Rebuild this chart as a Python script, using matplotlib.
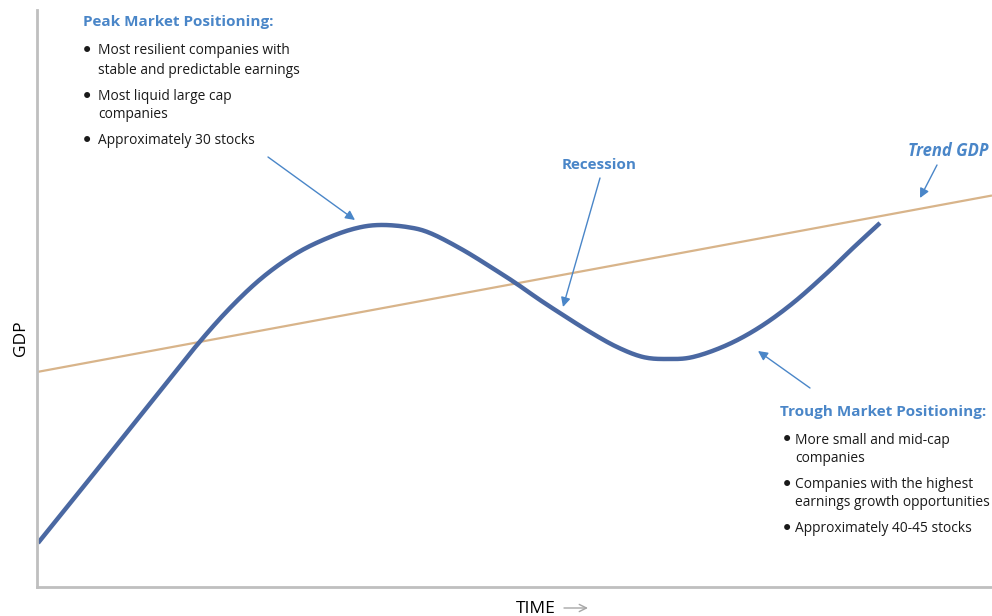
import matplotlib
matplotlib.use("Agg")
import matplotlib.pyplot as plt
import numpy as np

# ---- data (time units along x, GDP units along y) ----
time = [1, 43, 83, 123, 160, 193, 226, 260, 293, 320, 343, 370, 393, 426, 460, 480,
        503, 526, 553, 580, 606, 630, 656, 690, 723, 756, 790, 816, 843]
gdp = [44, 96, 146, 196, 242, 279, 310, 334, 350, 359, 362, 360, 354, 337, 316, 303,
       287, 272, 255, 240, 230, 228, 230, 242, 260, 284, 314, 339, 364]
trend_time = [0, 955]
trend_gdp = [215, 391.5]

peak_title = "Peak Market Positioning:"
peak_bullets = [["Most resilient companies with", "stable and predictable earnings"],
                ["Most liquid large cap", "companies"],
                ["Approximately 30 stocks"]]
trough_title = "Trough Market Positioning:"
trough_bullets = [["More small and mid-cap", "companies"],
                  ["Companies with the highest", "earnings growth opportunities"],
                  ["Approximately 40-45 stocks"]]

BLUE_TXT = "#4A86C8"
CURVE = "#4A68A2"
TREND = "#D8B48A"
FONT = "Open Sans"


def smooth_path(xs, ys, n=16):
    """Catmull-Rom rendering of the read points (drawing only)."""
    p = np.column_stack([xs, ys]).astype(float)
    p = np.vstack([2 * p[0] - p[1], p, 2 * p[-1] - p[-2]])
    out = []
    t = np.linspace(0, 1, n, endpoint=False)[:, None]
    for i in range(1, len(p) - 2):
        p0, p1, p2, p3 = p[i - 1], p[i], p[i + 1], p[i + 2]
        seg = 0.5 * ((2 * p1) + (-p0 + p2) * t + (2 * p0 - 5 * p1 + 4 * p2 - p3) * t ** 2
                     + (-p0 + 3 * p1 - 3 * p2 + p3) * t ** 3)
        out.append(seg)
    out.append(p[-2][None, :])
    out = np.vstack(out)
    return out[:, 0], out[:, 1]


fig = plt.figure(figsize=(9.92, 6.16), dpi=100)
ax = fig.add_axes([37 / 992, 29 / 616, 955 / 992, 577 / 616])
ax.set_xlim(0, 955)
ax.set_ylim(0, 577)
for s in ["top", "right"]:
    ax.spines[s].set_visible(False)
for s in ["left", "bottom"]:
    ax.spines[s].set_color("#BFBFBF")
    ax.spines[s].set_linewidth(2)
ax.set_xticks([])
ax.set_yticks([])

ax.plot(trend_time, trend_gdp, color=TREND, lw=1.6, clip_on=False, solid_capstyle="butt")
sx, sy = smooth_path(time, gdp)
ax.plot(sx, sy, color=CURVE, lw=3.2, solid_capstyle="butt", solid_joinstyle="round")

arrow = dict(arrowstyle="-|>", color=BLUE_TXT, lw=1.0, mutation_scale=14, shrinkA=0, shrinkB=0)
ax.annotate("", xy=(318, 367), xytext=(231, 430), arrowprops=arrow)
ax.annotate("", xy=(526, 280), xytext=(563, 409), arrowprops=arrow)
ax.annotate("", xy=(883, 389), xytext=(900, 422), arrowprops=arrow)
ax.annotate("", xy=(721, 236), xytext=(773, 199), arrowprops=arrow)

ax.text(562, 422, "Recession", color=BLUE_TXT, fontsize=11, fontweight="bold",
        family=FONT, ha="center", va="center")
ax.text(951, 436, "Trend GDP", color=BLUE_TXT, fontsize=12, fontweight="bold",
        style="italic", family=FONT, ha="right", va="center")


def block(x, y_title, title, bullets, ys, bx, tx):
    ax.text(x, y_title, title, color=BLUE_TXT, fontsize=11, fontweight="bold",
            family=FONT, ha="left", va="center", clip_on=False)
    i = 0
    for b in bullets:
        for j, line in enumerate(b):
            if j == 0:
                ax.text(bx, ys[i], "\u2022", fontsize=15, family="DejaVu Sans",
                        color="#1A1A1A", ha="left", va="center", clip_on=False)
            ax.text(tx, ys[i], line, fontsize=9.9, family=FONT, color="#1A1A1A",
                    ha="left", va="center", clip_on=False)
            i += 1


block(46, 565, peak_title, peak_bullets, [536, 517, 490, 472, 446], 44, 61)
block(743, 175, trough_title, trough_bullets, [147, 129, 102, 84, 58], 744, 758)

ax.text(-16, 249, "GDP", rotation=90, fontsize=12.5, family=FONT, color="#000000",
        ha="center", va="center", clip_on=False)
ax.text(519, -22, "TIME", fontsize=12.5, family=FONT, color="#000000",
        ha="right", va="center", clip_on=False)
ax.annotate("", xy=(551, -21), xytext=(527, -21), annotation_clip=False,
            arrowprops=dict(arrowstyle="->", color="#A6A6A6", lw=1.0, mutation_scale=13,
                            shrinkA=0, shrinkB=0))

fig.savefig("out.png", dpi=100, facecolor="white")
